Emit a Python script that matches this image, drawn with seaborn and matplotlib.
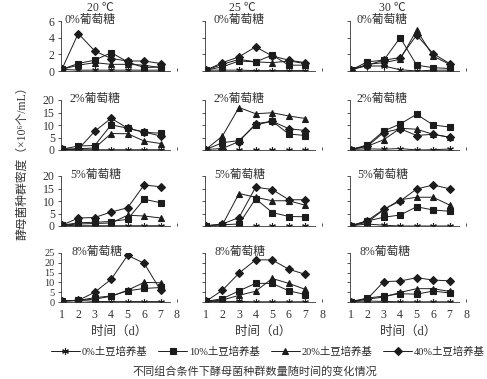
import pandas as pd
import numpy as np
import matplotlib
matplotlib.use('Agg')
import matplotlib.pyplot as plt
import seaborn as sns
from matplotlib.lines import Line2D

sns.set_style('ticks')
plt.rcParams['font.family'] = ['Liberation Serif', 'Noto Sans CJK SC', 'DejaVu Sans']

days = [1, 2, 3, 4, 5, 6, 7]
media = ['0%土豆培养基', '10%土豆培养基', '20%土豆培养基', '40%土豆培养基']
temps = ['20 ℃', '25 ℃', '30 ℃']
glucose = ['0%葡萄糖', '2%葡萄糖', '5%葡萄糖', '8%葡萄糖']
ylims = [6, 20, 20, 25]
ysteps = [2, 5, 5, 5]

# each panel: rows = 0%, 10%, 20%, 40% potato medium
t20_g0 = [[0.2, 0.1, 0.1, 0.1, 0.1, 0.1, 0.1],
          [0.2, 0.9, 1.3, 2.2, 1.1, 0.4, 0.5],
          [0.2, 0.7, 1.0, 0.8, 0.8, 0.7, 0.4],
          [0.2, 4.5, 2.4, 1.5, 1.2, 1.2, 0.9]]
t25_g0 = [[0.1, 0.1, 0.1, 0.05, 0.05, 0.05, 0.05],
          [0.1, 0.5, 1.2, 1.1, 1.9, 0.7, 0.7],
          [0.1, 0.8, 1.4, 1.1, 1.0, 1.2, 0.9],
          [0.1, 1.0, 1.7, 2.9, 1.8, 1.3, 1.0]]
t30_g0 = [[0.3, 0.6, 0.6, 0.15, 0.0, 0.1, 0.1],
          [0.1, 1.1, 1.3, 4.0, 0.7, 0.4, 0.3],
          [0.1, 0.8, 1.0, 1.4, 4.9, 1.8, 0.8],
          [0.1, 0.7, 1.3, 1.6, 4.3, 2.1, 0.9]]
t20_g2 = [[0.3, 0.1, 0.1, 0.1, 0.1, 0.1, 0.1],
          [0.3, 1.6, 1.8, 10.1, 8.7, 7.1, 6.7],
          [0.3, 0.5, 0.8, 6.6, 6.5, 3.6, 2.6],
          [0.3, 0.3, 7.5, 12.7, 8.7, 7.2, 5.6]]
t25_g2 = [[0.2, 0.2, 0.2, 0.2, 0.2, 0.2, 0.2],
          [0.2, 2.9, 3.8, 10.0, 11.5, 6.4, 5.8],
          [0.2, 5.6, 17.0, 14.5, 14.9, 13.6, 12.6],
          [0.2, 0.6, 3.4, 10.5, 11.5, 8.5, 7.8]]
t30_g2 = [[0.2, 0.5, 0.3, 0.6, 0.0, 0.1, 0.4],
          [0.2, 2.0, 7.6, 10.4, 14.3, 10.0, 9.2],
          [0.2, 1.5, 4.1, 8.7, 8.3, 6.3, 5.1],
          [0.2, 1.5, 7.0, 8.5, 5.8, 6.3, 5.1]]
t20_g5 = [[0.3, 0.1, 0.1, 0.1, 0.1, 0.1, 0.1],
          [0.3, 1.3, 1.5, 1.8, 2.7, 10.7, 9.3],
          [0.3, 0.8, 1.0, 1.2, 4.3, 4.0, 3.2],
          [0.3, 3.2, 3.4, 5.6, 7.3, 16.4, 15.7]]
t25_g5 = [[0.1, 0.1, 0.1, 0.1, 0.1, 0.1, 0.1],
          [0.1, 0.5, 0.8, 10.9, 5.4, 3.8, 3.7],
          [0.1, 0.5, 13.0, 11.5, 10.1, 10.1, 8.3],
          [0.1, 0.8, 3.4, 15.5, 14.6, 10.5, 10.5]]
t30_g5 = [[0.1, 0.8, 0.3, 0.0, 0.0, 0.0, 0.0],
          [0.1, 2.0, 3.5, 4.4, 7.7, 6.4, 5.9],
          [0.1, 1.5, 6.5, 10.5, 11.5, 11.5, 8.4],
          [0.1, 2.1, 6.7, 10.0, 14.8, 16.4, 14.9]]
t20_g8 = [[0.5, 0.8, 0.3, 0.2, 0.2, 0.2, 0.2],
          [0.5, 0.8, 2.2, 3.1, 5.7, 6.9, 7.4],
          [0.5, 0.8, 1.5, 2.9, 6.0, 10.0, 9.8],
          [0.5, 0.8, 5.0, 11.6, 23.8, 19.8, 6.0]]
t25_g8 = [[0.3, 0.3, 0.3, 0.1, 0.1, 0.1, 0.1],
          [0.3, 1.7, 5.7, 9.5, 9.5, 5.7, 3.8],
          [0.3, 1.0, 3.4, 5.5, 12.0, 9.5, 6.4],
          [0.3, 6.0, 14.7, 21.5, 21.5, 16.7, 14.1]]
t30_g8 = [[0.2, 0.5, 0.3, 0.1, 0.1, 0.1, 0.1],
          [0.2, 2.0, 3.0, 4.2, 4.0, 5.6, 4.6],
          [0.2, 1.5, 2.5, 4.9, 6.8, 6.8, 5.4],
          [0.2, 1.5, 10.4, 10.7, 12.4, 11.2, 10.8]]

panels = [[t20_g0, t25_g0, t30_g0],
          [t20_g2, t25_g2, t30_g2],
          [t20_g5, t25_g5, t30_g5],
          [t20_g8, t25_g8, t30_g8]]

markers = {media[0]: (6, 2, 0), media[1]: 's', media[2]: '^', media[3]: 'D'}
msizes = {media[0]: 4.8, media[1]: 3.9, media[2]: 4.1, media[3]: 4.1}
ink = '#1c1c1c'

W, H = 487, 379
col_px = [(61, 177), (205, 322), (350, 466)]
row_px = [(21, 71), (100, 150), (176, 226), (253, 302)]
label_x = [[0.03, 0.07, 0.06], [0.07, 0.07, 0.06], [0.08, 0.08, 0.06], [0.09, 0.08, 0.08]]
ytick_size = [8.5, 8.5, 8.5, 7.5]

fig = plt.figure(figsize=(4.87, 3.79), dpi=100)

for r in range(4):
    for c in range(3):
        x0, x1 = col_px[c]
        y0, y1 = row_px[r]
        ax = fig.add_axes([x0 / W, 1 - y1 / H, (x1 - x0) / W, (y1 - y0) / H])
        vals = panels[r][c]
        df = pd.DataFrame({'day': days * 4,
                           'density': [v for s in vals for v in s],
                           'medium': [m for m in media for _ in days]})
        for m in media:
            sub = df[df['medium'] == m]
            sns.lineplot(data=sub, x='day', y='density', ax=ax, color=ink,
                         linewidth=0.7, marker=markers[m], markersize=msizes[m],
                         markeredgecolor=ink, markerfacecolor=ink, markeredgewidth=0.8,
                         legend=False)
        ax.set_xlim(0.95, 8.0)
        ax.set_ylim(0, ylims[r])
        ax.set_yticks(np.arange(0, ylims[r] + 0.1, ysteps[r]))
        ax.set_xticks(days + [8])
        ax.spines['top'].set_visible(False)
        ax.spines['right'].set_visible(False)
        ax.spines['bottom'].set_bounds(0.95, 7.6)
        for sp in ['left', 'bottom']:
            ax.spines[sp].set_linewidth(0.6)
            ax.spines[sp].set_color('#333333')
        ax.tick_params(axis='y', direction='out', length=2.5, width=0.6,
                       labelsize=ytick_size[r], pad=2, colors='#333333')
        ax.tick_params(axis='x', direction='in', length=2, width=0.6,
                       labelsize=8.5, pad=5, colors='#333333')
        if c != 0:
            ax.set_yticklabels([])
        if r != 3:
            ax.set_xticklabels([])
        ax.set_xlabel('')
        ax.set_ylabel('')
        ax.text(label_x[r][c], 1.02, glucose[r], transform=ax.transAxes,
                fontsize=8.5, va='center', ha='left', color='#333333')
        if r == 3:
            ax.set_xlabel('时间（d）', fontsize=9, labelpad=3, color='#333333')

title_x = [100, 242, 392]
for c in range(3):
    fig.text(title_x[c] / W, 1 - 8 / H, temps[c], fontsize=8.5, ha='center',
             va='center', color='#333333')

fig.text(22 / W, 1 - 160 / H, '酵母菌种群密度（×10⁶个/mL）', rotation=90,
         fontsize=8.5, ha='center', va='center', color='#333333')

handles = [Line2D([], [], color=ink, linewidth=0.7, marker=markers[m],
                  markersize=msizes[m], markeredgecolor=ink, markerfacecolor=ink,
                  markeredgewidth=0.8, label=m) for m in media]
fig.legend(handles=handles, loc='center', bbox_to_anchor=(268 / W, 1 - 352 / H),
           ncol=4, frameon=False, fontsize=7.5, handlelength=2.8, handletextpad=0.2,
           columnspacing=1.0, borderpad=0)

fig.text(255 / W, 1 - 371 / H, '不同组合条件下酵母菌种群数量随时间的变化情况',
         fontsize=8, ha='center', va='center', color='#333333')

fig.savefig('out.png', dpi=100)
